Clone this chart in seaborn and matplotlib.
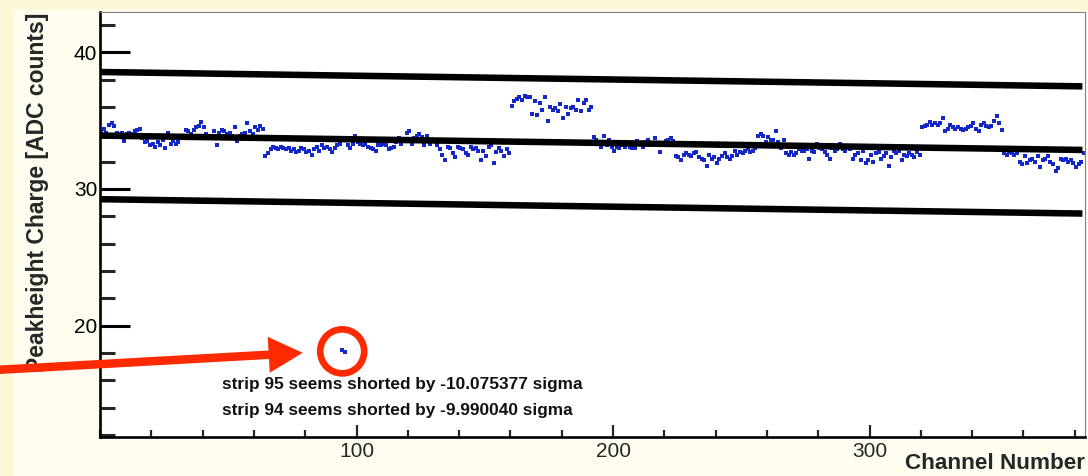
import numpy as np
import pandas as pd
import matplotlib
matplotlib.use("Agg")
import matplotlib.pyplot as plt
import seaborn as sns
from matplotlib.patches import FancyArrow, Circle, Rectangle
from matplotlib.ticker import MultipleLocator, FixedLocator

# ---------------- data ----------------
charge_000_031 = [34.2, 34.4, 34.1, 34.7, 34.8, 34.6, 34.1, 34.0, 34.1, 33.5, 34.0, 34.1, 34.0, 34.2, 34.3, 34.4,
                  33.7, 33.4, 33.5, 33.2, 33.3, 33.1, 33.4, 33.2, 33.6, 33.0, 34.1, 33.3, 33.5, 33.3, 33.4, 33.8]
charge_032_063 = [33.7, 34.3, 34.2, 34.0, 34.3, 34.5, 34.6, 34.9, 34.5, 34.0, 33.8, 33.9, 34.2, 33.2, 34.1, 34.3,
                  34.2, 34.0, 34.1, 33.9, 34.5, 33.5, 33.9, 34.0, 34.1, 34.8, 34.2, 34.0, 34.5, 34.3, 34.6, 34.4]
charge_064_095 = [32.4, 32.6, 32.9, 33.1, 33.0, 32.9, 33.1, 33.0, 32.9, 33.0, 32.8, 32.9, 32.7, 32.8, 33.0, 32.9,
                  32.7, 32.8, 32.5, 32.9, 33.1, 32.8, 33.2, 33.0, 33.1, 32.9, 32.7, 33.0, 33.2, 33.3, 18.2, 18.05]
charge_096_127 = [33.2, 33.0, 33.3, 33.9, 33.4, 33.3, 33.2, 33.3, 33.1, 33.0, 32.9, 32.8, 33.2, 33.2, 33.3, 33.2,
                  32.9, 33.0, 33.1, 33.4, 33.7, 33.3, 33.5, 34.1, 34.2, 33.3, 33.7, 33.9, 34.0, 33.8, 33.2, 33.9]
charge_128_159 = [33.3, 33.6, 33.5, 33.2, 32.9, 32.5, 32.1, 33.1, 33.0, 32.6, 32.3, 33.1, 33.0, 32.9, 32.6, 32.5,
                  33.1, 32.9, 33.0, 32.8, 32.1, 32.8, 32.4, 33.1, 33.2, 31.9, 32.7, 33.0, 32.8, 32.4, 32.9, 32.6]
charge_160_191 = [36.1, 36.4, 36.6, 36.7, 36.5, 36.8, 36.7, 36.7, 35.5, 36.4, 35.4, 36.3, 35.8, 36.7, 35.0, 36.0,
                  35.8, 35.9, 35.7, 36.2, 35.2, 36.0, 35.5, 35.9, 36.0, 35.8, 36.5, 35.7, 36.3, 36.5, 35.8, 36.0]
charge_192_223 = [33.8, 33.6, 33.3, 33.1, 33.9, 33.2, 33.6, 33.1, 32.8, 33.1, 33.0, 33.2, 33.1, 33.3, 33.1, 33.0,
                  33.0, 33.5, 33.3, 33.1, 33.4, 33.6, 33.2, 33.3, 33.7, 33.2, 32.7, 33.2, 33.5, 33.6, 33.7, 33.5]
charge_224_255 = [32.4, 32.3, 32.1, 32.5, 32.6, 32.5, 32.4, 32.6, 32.7, 32.3, 32.2, 32.1, 31.7, 32.5, 32.2, 32.3,
                  31.9, 32.2, 32.4, 32.6, 32.3, 32.2, 32.4, 32.8, 32.5, 32.7, 32.6, 32.8, 32.9, 32.7, 32.8, 33.0]
charge_256_287 = [33.9, 34.0, 33.9, 33.4, 33.8, 33.6, 33.6, 34.2, 33.4, 33.0, 33.6, 32.6, 32.5, 32.7, 32.5, 32.6,
                  32.9, 32.8, 32.8, 32.9, 32.2, 32.8, 32.7, 33.3, 33.0, 32.9, 32.7, 32.5, 32.2, 33.0, 32.8, 32.9]
charge_288_319 = [33.3, 32.9, 32.8, 33.1, 32.9, 32.2, 32.5, 32.6, 32.1, 32.8, 31.9, 32.1, 32.5, 32.0, 32.6, 32.7,
                  32.2, 32.4, 32.6, 31.7, 32.3, 32.8, 32.6, 32.8, 32.1, 32.5, 32.4, 32.6, 32.5, 32.3, 32.7, 32.5]
charge_320_351 = [34.5, 34.6, 34.7, 34.9, 34.7, 34.8, 34.7, 34.8, 35.2, 34.2, 34.4, 34.7, 34.5, 34.4, 34.5, 34.4,
                  34.3, 34.4, 34.5, 34.6, 34.8, 34.4, 34.2, 34.7, 34.8, 34.6, 34.5, 34.6, 35.0, 35.3, 34.8, 34.3]
charge_352_383 = [32.6, 32.5, 32.7, 32.6, 32.5, 32.6, 32.0, 31.8, 32.4, 31.9, 32.1, 32.2, 32.0, 32.4, 31.6, 32.1,
                  32.2, 32.4, 32.0, 31.8, 31.3, 31.5, 32.2, 32.1, 32.2, 32.0, 32.1, 31.9, 31.6, 31.8, 32.0, 32.6]

charge = np.array(charge_000_031 + charge_032_063 + charge_064_095 + charge_096_127 +
                  charge_128_159 + charge_160_191 + charge_192_223 + charge_224_255 +
                  charge_256_287 + charge_288_319 + charge_320_351 + charge_352_383)
channels = np.arange(len(charge))

fit_channels = [0, 383]
fit_center = [33.9, 32.85]
fit_upper = [38.55, 37.5]
fit_lower = [29.25, 28.2]

shorted_channels = [94, 95]
shorted_text = ["strip 95 seems shorted by -10.075377 sigma",
                "strip 94 seems shorted by -9.990040 sigma"]
text_pos_x = 47.5
text_pos_y = [15.7, 13.8]

x_major = [100, 200, 300]
y_major = [20, 30, 40]
x_label = "Channel Number"
y_label = "Peakheight Charge [ADC counts]"

# ---------------- style ----------------
sns.set_style("ticks")
plt.rcParams["font.family"] = ["Liberation Sans", "DejaVu Sans"]

W, H = 1088, 476
fig = plt.figure(figsize=(W / 100, H / 100), dpi=100, facecolor="#fcf7d6")
fig.add_artist(Rectangle((13 / W, 0), 1, (H - 10) / H, transform=fig.transFigure,
                         facecolor="#fffdf0", edgecolor="none", zorder=0))

ax_l, ax_r, ax_t, ax_b = 100, 1085, 12.5, 436.5
ax = fig.add_axes([ax_l / W, (H - ax_b) / H, (ax_r - ax_l) / W, (ax_b - ax_t) / H])
ax.set_facecolor("white")

df = pd.DataFrame({"channel": channels + 0.5, "charge": charge})
sns.scatterplot(data=df, x="channel", y="charge", marker="s", s=9, color="#1428c8",
                linewidth=0, ax=ax, zorder=2)

for yy in (fit_upper, fit_center, fit_lower):
    sns.lineplot(x=fit_channels, y=yy, color="black", linewidth=4.7, ax=ax,
                 estimator=None, zorder=3, solid_capstyle="butt")

ax.set_xlim(0, 384)
ax.set_ylim(11.9, 42.9)

ax.xaxis.set_major_locator(FixedLocator(x_major))
ax.xaxis.set_minor_locator(MultipleLocator(20))
ax.yaxis.set_major_locator(FixedLocator(y_major))
ax.yaxis.set_minor_locator(MultipleLocator(2))

ax.tick_params(axis="y", which="major", direction="in", length=21.6, width=2.2,
               labelsize=15, pad=2, colors="black")
ax.tick_params(axis="y", which="minor", direction="in", length=10.8, width=2.2)
ax.tick_params(axis="x", which="major", direction="in", length=8.6, width=1.6,
               labelsize=15, pad=4)
ax.tick_params(axis="x", which="minor", direction="in", length=5, width=1.6)
ax.tick_params(top=False, right=False, which="both")

for s in ("left", "bottom"):
    ax.spines[s].set_linewidth(1.9)
    ax.spines[s].set_color("black")
for s in ("top", "right"):
    ax.spines[s].set_linewidth(0.8)
    ax.spines[s].set_color("#808080")

ax.set_xlabel(x_label, loc="right", fontsize=16.2, fontweight="bold")
ax.set_ylabel(y_label, loc="top", fontsize=16.5, fontweight="bold")
ax.xaxis.set_label_coords(1.0, -0.039)
ax.yaxis.set_label_coords(-0.052, 1.0)

for txt, ty in zip(shorted_text, text_pos_y):
    ax.text(text_pos_x, ty, txt, fontsize=12.4, fontweight="bold", va="center", ha="left",
            color="#111111")

# ---------------- annotation: circle + arrow ----------------
px = np.mean(np.array(shorted_channels) + 0.5)
py = np.mean(charge[shorted_channels])
cx, cy = ax.transData.transform((px, py))
red = "#ff2a00"
circ = Circle(((cx - 1.5) / 100, cy / 100), 0.22, transform=fig.dpi_scale_trans,
              fill=False, edgecolor=red, linewidth=4.8, zorder=10)
fig.add_artist(circ)

tip_x, tip_y = (cx - 41) / 100, (cy - 1.5) / 100
tail_x, tail_y = -0.05, (H - 370) / 100
arrow = FancyArrow(tail_x, tail_y, tip_x - tail_x, tip_y - tail_y, width=0.085,
                   head_width=0.36, head_length=0.34, length_includes_head=True,
                   transform=fig.dpi_scale_trans, color=red, linewidth=0, zorder=10)
fig.add_artist(arrow)

fig.savefig("out.png", dpi=100, facecolor=fig.get_facecolor())
